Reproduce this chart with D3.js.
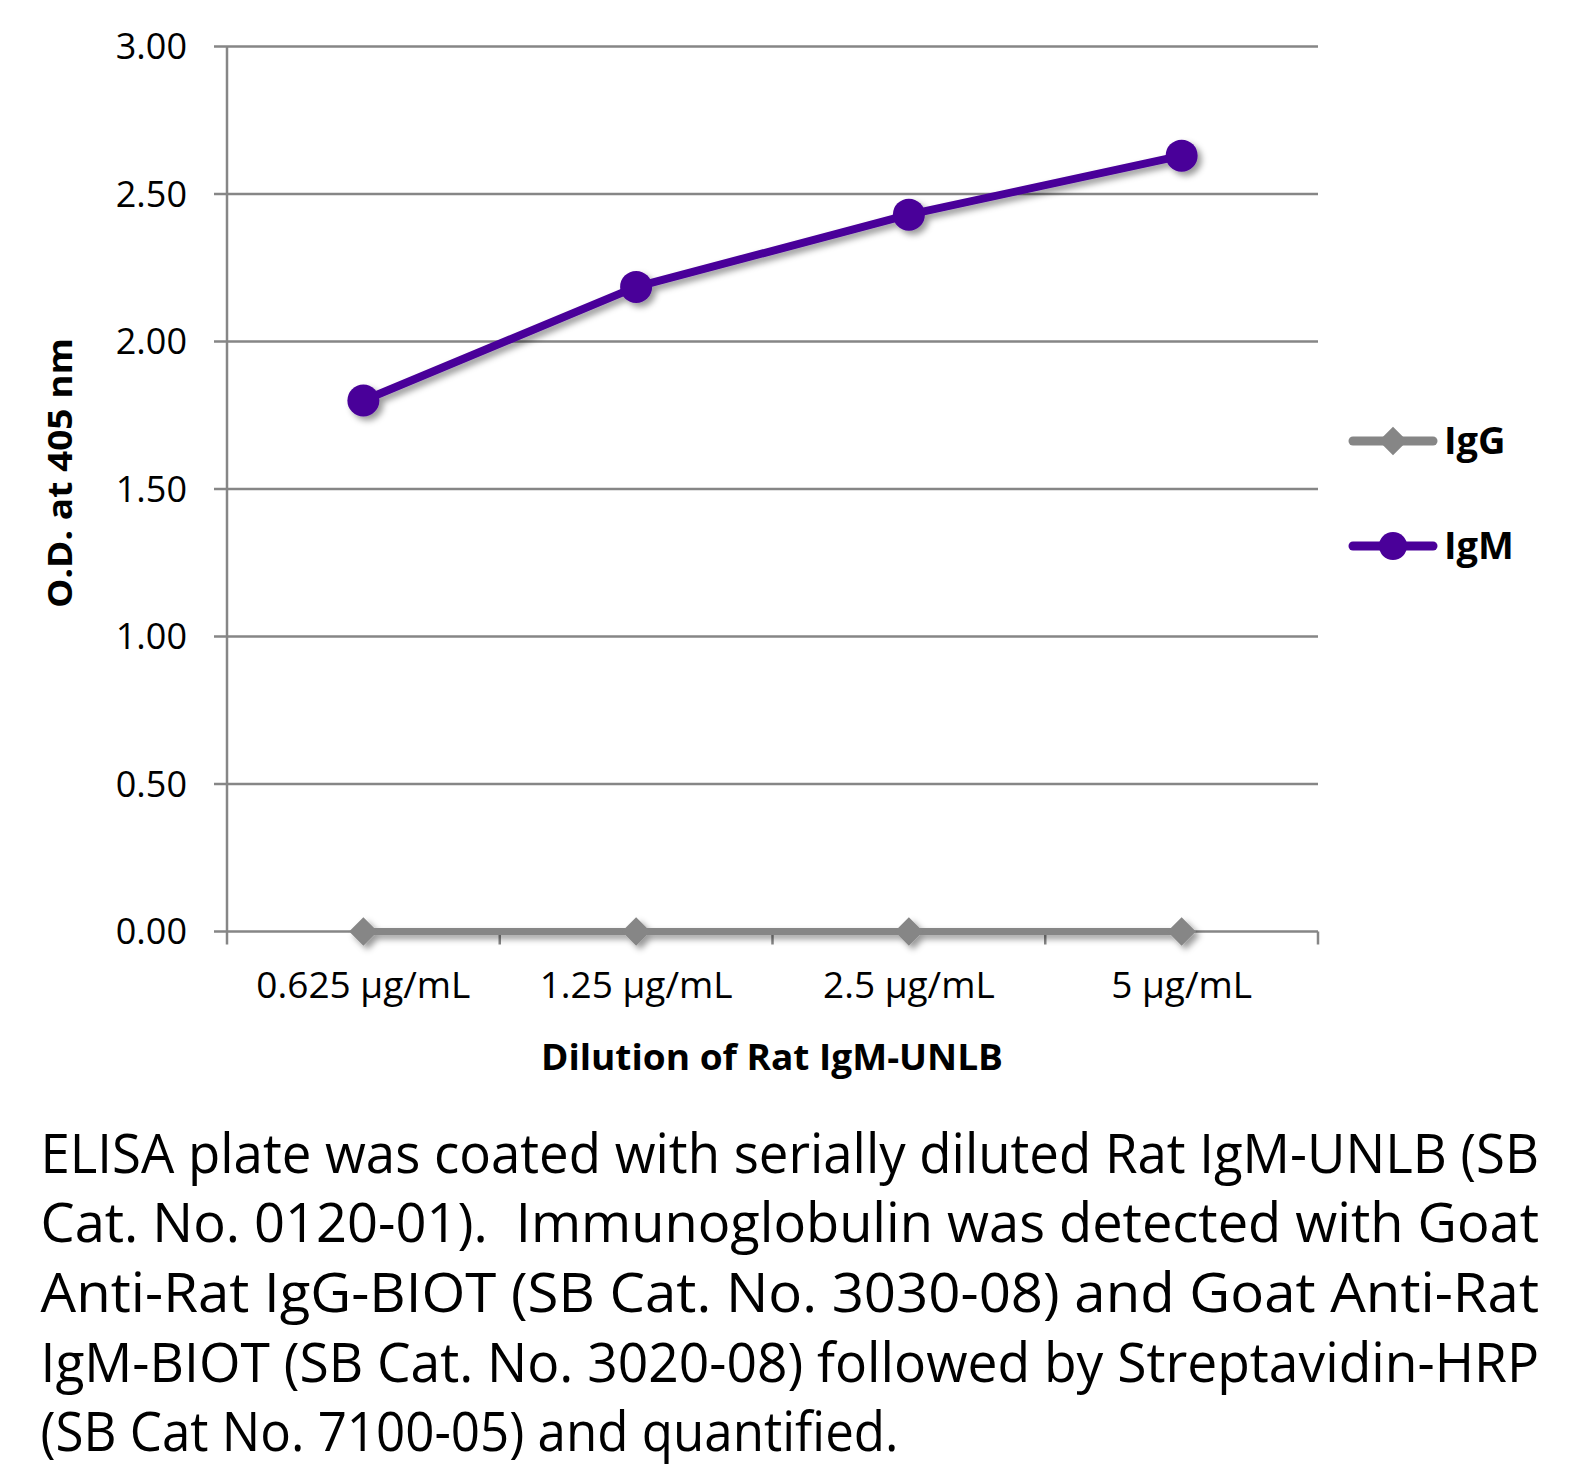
<!DOCTYPE html>
<html>
<head>
<meta charset="utf-8">
<script src="https://cdn.jsdelivr.net/npm/d3@7"></script>
<style>
  body { margin: 0; background: #fff; }
  svg { display: block; font-family: "Open Sans", sans-serif; }
</style>
</head>
<body>
<svg width="1586" height="1468"></svg>
<script>
// data
const categories = ["0.625 µg/mL", "1.25 µg/mL", "2.5 µg/mL", "5 µg/mL"];
const igG = [0.00, 0.00, 0.00, 0.00];
const igM = [1.80, 2.185, 2.43, 2.63];
const yTicks = [0, 0.5, 1, 1.5, 2, 2.5, 3];
const seriesNames = ["IgG", "IgM"];
const captionLines = [
  "ELISA plate was coated with serially diluted Rat IgM-UNLB (SB",
  "Cat. No. 0120-01).  Immunoglobulin was detected with Goat",
  "Anti-Rat IgG-BIOT (SB Cat. No. 3030-08) and Goat Anti-Rat",
  "IgM-BIOT (SB Cat. No. 3020-08) followed by Streptavidin-HRP",
  "(SB Cat No. 7100-05) and quantified."
];

const svg = d3.select("svg");
const grey = "#868686";
const purple = "#4a0099";

const x = d3.scaleBand().domain(categories).range([227, 1318]);
const y = d3.scaleLinear().domain([0, 3]).range([931.5, 46.5]);

// shadow like the office chart
const defs = svg.append("defs");
defs.append("filter")
    .attr("id", "shadow")
    .attr("x", "-50%").attr("y", "-50%")
    .attr("width", "200%").attr("height", "200%")
    .append("feDropShadow")
    .attr("dx", 4).attr("dy", 4)
    .attr("stdDeviation", 3)
    .attr("flood-color", "#000")
    .attr("flood-opacity", 0.4);

// gridlines + y ticks
svg.append("g")
    .selectAll("line")
    .data(yTicks)
    .join("line")
    .attr("x1", 214)
    .attr("x2", 1318)
    .attr("y1", d => y(d))
    .attr("y2", d => y(d))
    .attr("stroke", grey)
    .attr("stroke-width", 2.5);

svg.append("g")
    .selectAll("text")
    .data(yTicks)
    .join("text")
    .attr("x", 187)
    .attr("y", d => y(d) + 12.5)
    .attr("text-anchor", "end")
    .attr("font-size", 36)
    .attr("fill", "#000")
    .text(d => d3.format(".2f")(d));

// y axis line
svg.append("line")
    .attr("x1", x.range()[0]).attr("x2", x.range()[0])
    .attr("y1", y(3)).attr("y2", y(0) + 13)
    .attr("stroke", grey)
    .attr("stroke-width", 2.5);

// x ticks at band edges
const edges = categories.map(c => x(c)).concat([x.range()[1]]);
svg.append("g")
    .selectAll("line")
    .data(edges.slice(1))
    .join("line")
    .attr("x1", d => d).attr("x2", d => d)
    .attr("y1", y(0)).attr("y2", y(0) + 13)
    .attr("stroke", grey)
    .attr("stroke-width", 2.5);

svg.append("g")
    .selectAll("text")
    .data(categories)
    .join("text")
    .attr("x", d => x(d) + x.bandwidth() / 2)
    .attr("y", 998)
    .attr("text-anchor", "middle")
    .attr("font-size", 37)
    .text(d => d);

// axis titles
svg.append("text")
    .attr("x", 772)
    .attr("y", 1070)
    .attr("text-anchor", "middle")
    .attr("font-size", 35)
    .attr("font-weight", "bold")
    .attr("textLength", 462)
    .attr("lengthAdjust", "spacingAndGlyphs")
    .text("Dilution of Rat IgM-UNLB");

svg.append("text")
    .attr("transform", "translate(72,473) rotate(-90)")
    .attr("text-anchor", "middle")
    .attr("font-size", 34)
    .attr("font-weight", "bold")
    .attr("textLength", 270)
    .attr("lengthAdjust", "spacingAndGlyphs")
    .text("O.D. at 405 nm");

// series
const cx = d => x(d) + x.bandwidth() / 2;
const line = d3.line().x((v, i) => cx(categories[i])).y(v => y(v));

const diamond = d3.symbol().type(d3.symbolDiamond2).size(520);

function drawSeries(values, color, width, marker) {
    const g = svg.append("g").attr("filter", "url(#shadow)");
    g.append("path")
        .attr("d", line(values))
        .attr("fill", "none")
        .attr("stroke", color)
        .attr("stroke-width", width)
        .attr("stroke-linejoin", "round");
    if (marker === "circle") {
        g.selectAll("circle")
            .data(values)
            .join("circle")
            .attr("cx", (v, i) => cx(categories[i]))
            .attr("cy", v => y(v))
            .attr("r", 16)
            .attr("fill", color);
    } else {
        g.selectAll("path.m")
            .data(values)
            .join("path")
            .attr("class", "m")
            .attr("d", diamond)
            .attr("transform", (v, i) => `translate(${cx(categories[i])},${y(v)})`)
            .attr("fill", color);
    }
}

drawSeries(igG, grey, 7, "diamond");
drawSeries(igM, purple, 8, "circle");

// legend
const legendY = [441, 546];
const legendColors = [grey, purple];
seriesNames.forEach((name, i) => {
    const g = svg.append("g").attr("transform", `translate(1353,${legendY[i]})`);
    g.append("line")
        .attr("x1", 0).attr("x2", 80)
        .attr("stroke", legendColors[i])
        .attr("stroke-width", 9)
        .attr("stroke-linecap", "round");
    if (i === 0) {
        g.append("path").attr("d", diamond).attr("transform", "translate(40,0)").attr("fill", grey);
    } else {
        g.append("circle").attr("cx", 40).attr("r", 14).attr("fill", purple);
    }
    g.append("text")
        .attr("x", 91)
        .attr("y", 13)
        .attr("font-size", 38)
        .attr("font-weight", "bold")
        .text(name);
});

// caption, justified
const capLeft = 40.5, capRight = 1539, capFont = 54;
const baselines = [1173, 1242, 1312, 1382, 1451];
const cap = svg.append("g")
    .selectAll("text")
    .data(captionLines)
    .join("text")
    .attr("x", capLeft)
    .attr("y", (d, i) => baselines[i])
    .attr("font-size", capFont)
    .attr("fill", "#000")
    .style("white-space", "pre")
    .text(d => d);

cap.each(function (d, i) {
    const el = d3.select(this);
    const w = i === captionLines.length - 1 ? 858 : capRight - capLeft;
    el.attr("textLength", w).attr("lengthAdjust", "spacingAndGlyphs");
});
</script>
</body>
</html>
